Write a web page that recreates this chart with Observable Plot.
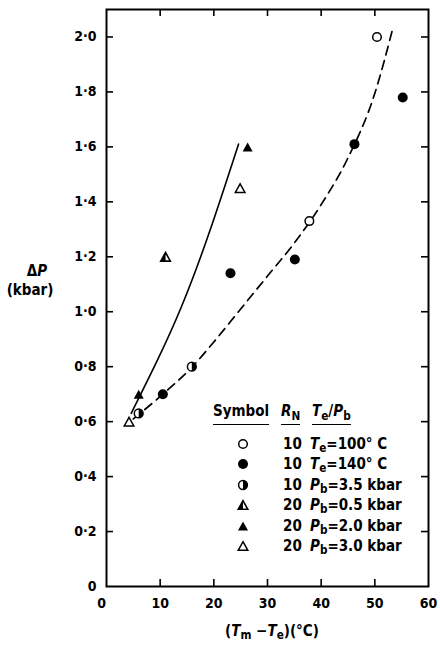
<!DOCTYPE html>
<html><head><meta charset="utf-8">
<script src="https://cdn.jsdelivr.net/npm/d3@7"></script>
<script src="https://cdn.jsdelivr.net/npm/@observablehq/plot@0.6"></script>
<style>
body{margin:0;background:#fff;}
#wrap{position:relative;width:440px;height:648px;overflow:hidden;font-family:"DejaVu Sans Condensed","Liberation Sans Narrow","DejaVu Sans",sans-serif;font-weight:bold;color:#000;}
#wrap svg.main{position:absolute;left:0;top:0;}
.lab{position:absolute;white-space:nowrap;font-size:15px;line-height:1;}
.c{transform:translate(-50%,-50%);}
.m{transform:translateY(-50%);}
.hd{border-bottom:1.7px solid #000;padding-bottom:4px;}
sub{font-size:0.78em;vertical-align:-0.32em;line-height:0;}
i{font-style:italic;}
</style>
</head><body><div id="wrap"></div>
<script>
// ---- data ----
const xTicks = [0, 10, 20, 30, 40, 50, 60];
const yTicks = [0, 0.2, 0.4, 0.6, 0.8, 1.0, 1.2, 1.4, 1.6, 1.8, 2.0];

// RN=10, Te=100 °C (open circles)
const openCircleX = [37.8, 50.4];
const openCircleY = [1.33, 2.0];
// RN=10, Te=140 °C (filled circles)
const filledCircleX = [10.5, 23.1, 35.1, 46.2, 55.2];
const filledCircleY = [0.70, 1.14, 1.19, 1.61, 1.78];
// RN=10, Pb=3.5 kbar (half-filled circles)
const halfCircleX = [6.0, 15.9];
const halfCircleY = [0.63, 0.80];
// RN=20, Pb=0.5 kbar (half-filled triangle)
const halfTriX = [11.0];
const halfTriY = [1.20];
// RN=20, Pb=2.0 kbar (filled triangles)
const filledTriX = [6.0, 26.3];
const filledTriY = [0.70, 1.60];
// RN=20, Pb=3.0 kbar (open triangles)
const openTriX = [4.2, 24.9];
const openTriY = [0.60, 1.45];

// fitted curves
const solidX = [4.6, 9.4, 14.0, 19.0, 24.6];
const solidY = [0.63, 0.82, 1.02, 1.28, 1.61];
const dashX = [5.0, 10.5, 16.0, 20.0, 25.0, 30.0, 35.0, 40.0, 45.0, 50.0, 53.2];
const dashY = [0.61, 0.70, 0.80, 0.89, 1.01, 1.13, 1.25, 1.39, 1.56, 1.795, 2.02];

// legend
const legendRN = ["10", "10", "10", "20", "20", "20"];
const legendVar = ["T", "T", "P", "P", "P", "P"];
const legendSub = ["e", "e", "b", "b", "b", "b"];
const legendVal = ["=100° C", "=140° C", "=3.5 kbar", "=0.5 kbar", "=2.0 kbar", "=3.0 kbar"];
const legendKind = ["openCircle", "filledCircle", "halfCircle", "halfTri", "filledTri", "openTri"];

// ---- symbols ----
const symCircle = {draw(c, s){const r=Math.sqrt(s/Math.PI); c.moveTo(r,0); c.arc(0,0,r,0,2*Math.PI); c.closePath();}};
const symHalfRight = {draw(c, s){const r=Math.sqrt(s/Math.PI); c.moveTo(0,-r); c.arc(0,0,r,-Math.PI/2,Math.PI/2); c.closePath();}};
const symTri = {draw(c, s){const r=Math.sqrt(s/Math.PI), w=r, h=1.8*r; c.moveTo(0,-h/2); c.lineTo(w,h/2); c.lineTo(-w,h/2); c.closePath();}};
const symTriLeft = {draw(c, s){const r=Math.sqrt(s/Math.PI), w=r, h=1.8*r; c.moveTo(0,-h/2); c.lineTo(0,h/2); c.lineTo(-w,h/2); c.closePath();}};

const styles = {
  openCircle: [{symbol: symCircle, r: 4.3, fill: "white", stroke: "black", strokeWidth: 1.5}],
  filledCircle: [{symbol: symCircle, r: 5, fill: "black", stroke: "none"}],
  halfCircle: [{symbol: symCircle, r: 4.4, fill: "white", stroke: "black", strokeWidth: 1.5}, {symbol: symHalfRight, r: 4.4, fill: "black", stroke: "none"}],
  halfTri: [{symbol: symTri, r: 4.8, fill: "white", stroke: "black", strokeWidth: 1.6, strokeLinejoin: "miter"}, {symbol: symTriLeft, r: 4.8, fill: "black", stroke: "none"}],
  filledTri: [{symbol: symTri, r: 5, fill: "black", stroke: "none"}],
  openTri: [{symbol: symTri, r: 4.8, fill: "white", stroke: "black", strokeWidth: 1.5, strokeLinejoin: "miter"}]
};

const pts = (xs, ys) => xs.map((x, i) => ({x, y: ys[i]}));
const series = {
  openCircle: pts(openCircleX, openCircleY),
  filledCircle: pts(filledCircleX, filledCircleY),
  halfCircle: pts(halfCircleX, halfCircleY),
  halfTri: pts(halfTriX, halfTriY),
  filledTri: pts(filledTriX, filledTriY),
  openTri: pts(openTriX, openTriY)
};

// ---- layout ----
const W = 440, H = 648, mL = 106, mR = 12, mT = 9, mB = 62;
const iW = W - mL - mR, iH = H - mT - mB, tickLen = 7;
const fmtY = d => d === 0 ? "0" : d3.format(".1f")(d).replace(".", "·");
const inner = a => a.filter((d, i) => i > 0 && i < a.length - 1);

const dotMarks = [];
for (const k of Object.keys(series)) for (const st of styles[k]) dotMarks.push(Plot.dot(series[k], {x: "x", y: "y", ...st}));

const plot = Plot.plot({
  width: W, height: H, marginLeft: mL, marginRight: mR, marginTop: mT, marginBottom: mB,
  x: {domain: [0, 60]},
  y: {domain: [0, 2.1]},
  style: {fontFamily: '"DejaVu Sans Condensed","Liberation Sans Narrow","DejaVu Sans",sans-serif', fontSize: "14px", fontWeight: "bold", color: "#000", background: "#fff"},
  marks: [
    Plot.axisY(yTicks, {anchor: "left", tickSize: 0, tickPadding: 10, tickFormat: fmtY, label: null}),
    Plot.axisX(xTicks.filter(d => d > 0), {anchor: "bottom", tickSize: 0, tickPadding: 12, label: null}),
    Plot.axisX(xTicks.filter(d => d === 0), {anchor: "bottom", tickSize: 0, tickPadding: 12, dx: -5, label: null}),
    Plot.tickY(yTicks.filter(d => d > 0), {y: d => d, insetRight: iW - tickLen, strokeWidth: 1.6}),
    Plot.tickY(yTicks.filter(d => d > 0), {y: d => d, insetLeft: iW - tickLen, strokeWidth: 1.6}),
    Plot.tickX(inner(xTicks), {x: d => d, insetBottom: iH - tickLen, strokeWidth: 1.6}),
    Plot.tickX(inner(xTicks), {x: d => d, insetTop: iH - tickLen, strokeWidth: 1.6}),
    Plot.frame({strokeWidth: 2}),
    Plot.line(pts(solidX, solidY), {x: "x", y: "y", curve: "natural", strokeWidth: 1.6}),
    Plot.line(pts(dashX, dashY), {x: "x", y: "y", curve: "monotone-x", strokeWidth: 1.7, strokeDasharray: "9,6"}),
    ...dotMarks
  ]
});
plot.classList.add("main");
const wrap = document.getElementById("wrap");
wrap.appendChild(plot);

// ---- text labels (HTML overlay) ----
function lab(html, x, y, cls) {
  const d = document.createElement("div");
  d.className = "lab " + (cls || "");
  d.style.left = x + "px"; d.style.top = y + "px";
  d.innerHTML = html;
  wrap.appendChild(d);
  return d;
}
lab("Δ<i>P</i>", 37, 271, "c");
lab("(kbar)", 30, 290, "c");
lab("(<i>T</i><sub>m</sub> −<i>T</i><sub>e</sub>)(°C)", 272, 631, "c");

// legend header
lab('<span class="hd">Symbol</span>', 213, 404);
lab('<span class="hd"><i>R</i><sub>N</sub></span>', 281, 404);
lab('<span class="hd"><i>T</i><sub>e</sub>/<i>P</i><sub>b</sub></span>', 312, 404);

function symSVG(kind) {
  let s = '<svg width="14" height="14" viewBox="-7 -7 14 14" style="display:block">';
  for (const st of styles[kind]) {
    const p = d3.path();
    st.symbol.draw(p, Math.PI * st.r * st.r);
    s += `<path d="${p}" fill="${st.fill}" stroke="${st.stroke}" stroke-width="${st.strokeWidth || 0}"/>`;
  }
  return s + "</svg>";
}
legendKind.forEach((k, i) => {
  const y = 444 + i * 20.4;
  lab(symSVG(k), 243, y, "c");
  lab(legendRN[i], 283, y, "m");
  lab(`<i>${legendVar[i]}</i><sub>${legendSub[i]}</sub>${legendVal[i]}`, 310, y, "m");
});
</script>
</body></html>
